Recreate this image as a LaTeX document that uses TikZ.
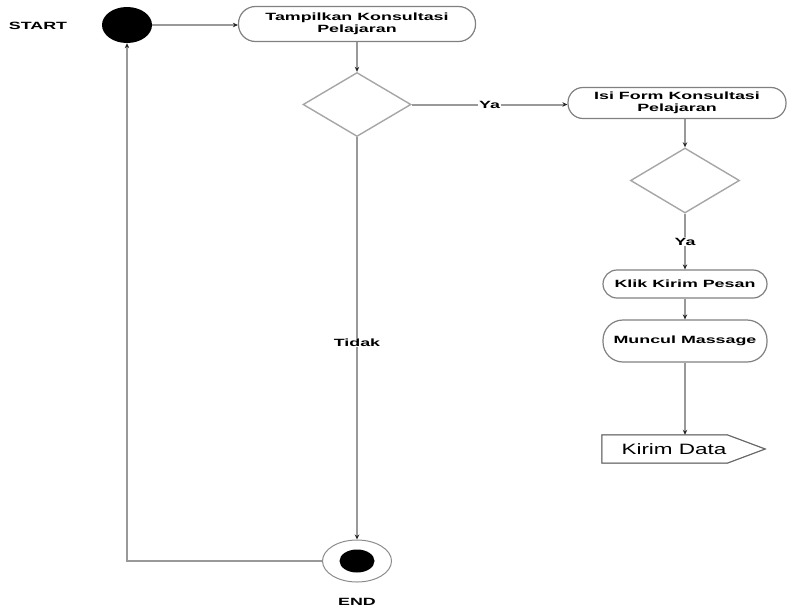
\documentclass[tikz,border=0pt]{standalone}
\usepackage{graphicx}
\usepackage{fontspec}
\setmainfont{Liberation Sans}
\usetikzlibrary{arrows.meta,shapes.geometric,calc}
% wide lettering used throughout the chart
\newcommand{\wtext}[1]{\scalebox{1.7}[1]{#1}}
\begin{document}
\begin{tikzpicture}[x=1pt,y=-1pt,
  line/.style={draw=black!40,line width=2pt},
  flow/.style={line,-{Stealth[length=5pt,width=4.5pt,color=black!85]}},
  boldtxt/.style={font=\fontsize{10.5}{12}\selectfont\bfseries},
  act/.style={boldtxt,draw=black!50,line width=1.2pt,fill=white,inner sep=0pt},
  dec/.style={diamond,draw=black!35,line width=1.4pt,fill=white,inner sep=0pt},
  lbl/.style={boldtxt,fill=white,inner sep=1pt}]
\useasboundingbox (0,0) rectangle (799,608);

% initial and final states
\node[ellipse,fill=black,minimum width=50pt,minimum height=36pt,inner sep=0pt] (startnode) at (127,25) {};
\node[boldtxt] (startlbl) at (38,26) {\wtext{START}};
\node[ellipse,draw=black!45,line width=1pt,fill=white,minimum width=69pt,minimum height=42pt,inner sep=0pt] (finish) at (357,561) {};
\node[ellipse,fill=black,minimum width=35pt,minimum height=23pt,inner sep=0pt] (finishdot) at (finish) {};
\node[boldtxt] (endlbl) at (357,602) {\wtext{END}};

% activities
\node[act,rounded corners=17pt,minimum width=237pt,minimum height=35pt] (tampil) at (357,24)
  {\wtext{\begin{tabular}{@{}c@{}}Tampilkan Konsultasi\\Pelajaran\end{tabular}}};
\node[act,rounded corners=15pt,minimum width=218pt,minimum height=31pt] (isi) at (677,103)
  {\wtext{\begin{tabular}{@{}c@{}}Isi Form Konsultasi\\Pelajaran\end{tabular}}};
\node[act,rounded corners=14pt,minimum width=164pt,minimum height=28pt] (klik) at (685,284)
  {\wtext{Klik Kirim Pesan}};
\node[act,rounded corners=20pt,minimum width=164pt,minimum height=42pt] (muncul) at (685,341)
  {\wtext{Muncul Massage}};

% decisions
\node[dec,minimum width=108pt,minimum height=64pt] (d1) at (357,104.5) {};
\node[dec,minimum width=109pt,minimum height=65pt] (d2) at (685,180.5) {};

% send signal
\node[minimum width=144pt,minimum height=28pt,inner sep=0pt,font=\fontsize{15}{17}\selectfont] (kirim) at (674,449)
  {\scalebox{1.5}[1]{Kirim Data}};
\begin{scope}[shift={(-1.5,1.5)}]
\draw[draw=black!35,line width=1pt] (kirim.north west) -- ($(kirim.north east)+(-19,0)$) -- ($(kirim.east)+(19,0)$)
  -- ($(kirim.south east)+(-19,0)$) -- (kirim.south west) -- cycle;
\end{scope}
\draw[draw=black!60,line width=1pt] (kirim.north west) -- ($(kirim.north east)+(-19,0)$) -- ($(kirim.east)+(19,0)$)
  -- ($(kirim.south east)+(-19,0)$) -- (kirim.south west) -- cycle;

% transitions
\draw[flow] (startnode) -- (startnode -| tampil.west);
\draw[flow] (tampil) -- (d1);
\draw[flow] (d1.east) -- node[lbl]{\wtext{Ya}} (d1.east -| isi.west);
\draw[flow] (d2.north |- isi.south) -- (d2.north);
\draw[flow] (d2) -- node[lbl]{\wtext{Ya}} (klik);
\draw[flow] (klik) -- (muncul);
\draw[flow] (muncul.south) -- (muncul.south |- kirim.north);
\draw[flow] (d1) -- node[lbl,pos=0.51]{\wtext{Tidak}} (finish);
\draw[flow] (finish.west) -| (startnode.south);
\end{tikzpicture}
\end{document}
